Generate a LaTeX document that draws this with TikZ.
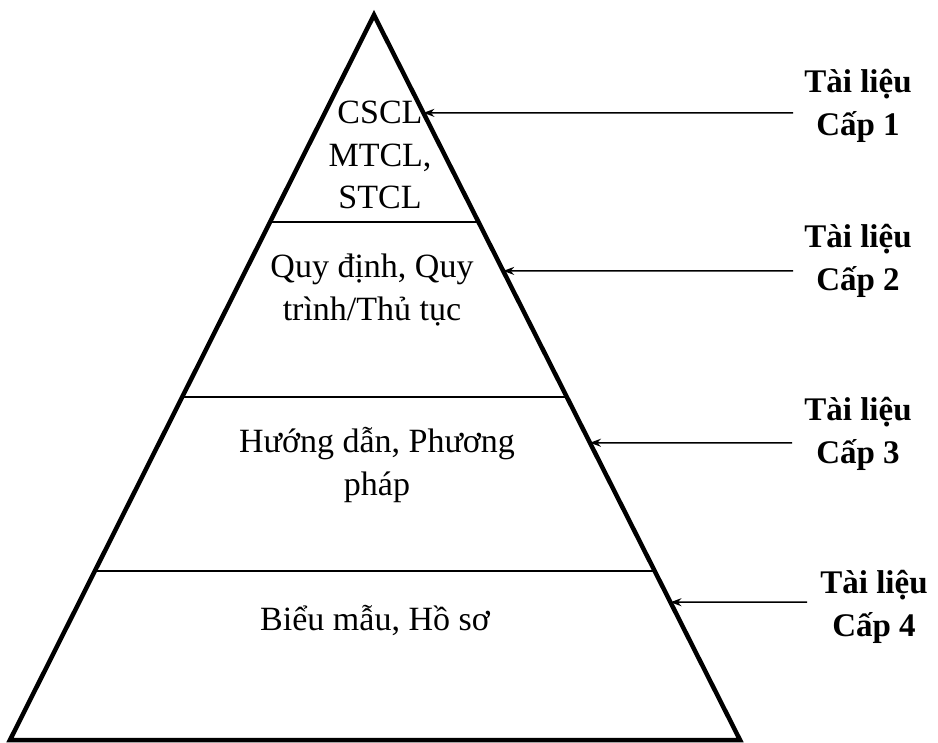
\documentclass[tikz,border=0pt]{standalone}
\usepackage{fontspec}
\setmainfont{Liberation Serif}
\usetikzlibrary{arrows.meta, calc}
\tikzstyle{level} = [align=center, font=\fontsize{34}{42.5}\selectfont, inner sep=0pt]
\tikzstyle{tag} = [align=center, font=\fontsize{33}{43}\selectfont\bfseries, inner sep=0pt]
\tikzstyle{pyramid} = [line width=4.5pt, line join=miter]
\tikzstyle{divider} = [line width=1.8pt]
\tikzstyle{arrow} = [line width=1.5pt, -{Stealth[length=11pt, width=8pt]}]

\begin{document}
\begin{tikzpicture}[x=1pt, y=-1pt]
	\useasboundingbox (0,0) rectangle (938,743);
	\coordinate (top) at (374,15);
	\coordinate (bl) at (10,740);
	\coordinate (br) at (740,740);
	\draw [pyramid] (top) -- (bl) -- (br) -- cycle;
	
	% dividing lines
	\draw [divider] ($(top)!0.2855!(bl)$) -- ($(top)!0.2855!(br)$);
	\draw [divider] ($(top)!0.527!(bl)$) -- ($(top)!0.527!(br)$);
	\draw [divider] ($(top)!0.767!(bl)$) -- ($(top)!0.767!(br)$);
	
	\node (lv1) [level] at (380,155) {CSCL\\MTCL,\\STCL};
	\node (lv2) [level] at (372,290) {Quy định, Quy\\trình/Thủ tục};
	\node (lv3) [level] at (377,465) {Hướng dẫn, Phương\\pháp};
	\node (lv4) [level] at (375,620) {Biểu mẫu, Hồ sơ};
	
	\node (tag1) [tag] at (858,106) {Tài liệu\\Cấp 1};
	\node (tag2) [tag] at (858,261) {Tài liệu\\Cấp 2};
	\node (tag3) [tag] at (858,434) {Tài liệu\\Cấp 3};
	\node (tag4) [tag] at (874,607) {Tài liệu\\Cấp 4};
	
	\coordinate (from1) at (793,113);
	\coordinate (from2) at (793,271);
	\coordinate (from3) at (792,443);
	\coordinate (from4) at (807,602);
	\coordinate (to1) at ($(top)!0.135!(br)$);
	\coordinate (to2) at ($(top)!0.353!(br)$);
	\coordinate (to3) at ($(top)!0.590!(br)$);
	\coordinate (to4) at ($(top)!0.810!(br)$);
	
	\draw [arrow] (from1) -- (to1);
	\draw [arrow] (from2) -- (to2);
	\draw [arrow] (from3) -- (to3);
	\draw [arrow] (from4) -- (to4);
\end{tikzpicture}
\end{document}
